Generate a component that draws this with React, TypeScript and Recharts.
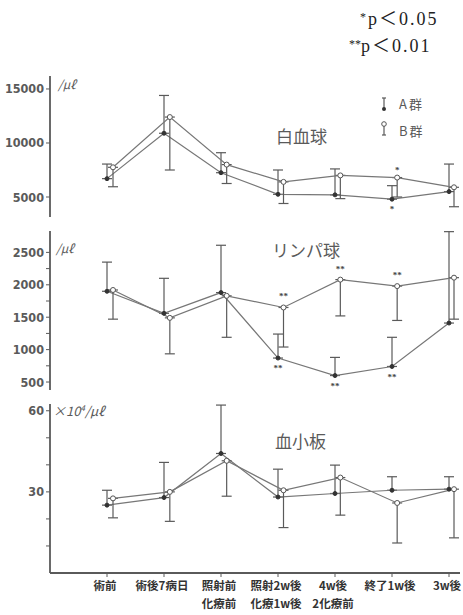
import React from 'react';
import { LineChart, Line, XAxis, YAxis, ErrorBar, LabelList } from 'recharts';

// 7 time points
const categories = ['術前', '術後7病日', '照射前\n化療前', '照射2w後\n化療1w後', '4w後\n2化療前', '終了1w後', '3w後'];

// 白血球 (/μl)
const wbcA = [6700, 10900, 7250, 5250, 5200, 4800, 5500];
const wbcAUpper = [8050, 14400, 9100, 7500, 7600, 6050, 8050];
const wbcB = [7750, 12400, 8000, 6400, 7000, 6800, 5900];
const wbcBLower = [5950, 7500, 6250, 4400, 4850, 5000, 4100];
const wbcASig = ['', '', '', '', '', '*', ''];
const wbcBSig = ['', '', '', '', '', '*', ''];
const wbcTicks = [5000, 10000, 15000];

// リンパ球 (/μl)
const lymA = [1900, 1560, 1880, 870, 600, 740, 1410];
const lymAUpper = [2350, 2100, 2610, 1240, 880, 1190, 2820];
const lymB = [1920, 1490, 1830, 1650, 2080, 1980, 2110];
const lymBLower = [1470, 935, 1190, 1040, 1520, 1450, 1470];
const lymASig = ['', '', '', '**', '**', '**', ''];
const lymBSig = ['', '', '', '**', '**', '**', ''];
const lymTicks = [500, 750, 1000, 1250, 1500, 1750, 2000, 2250, 2500];
const lymLabeled = [500, 1000, 1500, 2000, 2500];

// 血小板 (×10^4/μl)
const pltA = [25.1, 27.9, 44.2, 28.1, 29.4, 30.6, 31];
const pltAUpper = [30.6, 40.9, 62.1, 38.4, 39.9, 35.6, 35.6];
const pltB = [27.6, 30, 41.5, 30.6, 35.3, 25.9, 31];
const pltBLower = [20.4, 19.1, 28.4, 16.8, 21.4, 11.1, 13];
const pltTicks = [10, 20, 30, 40, 50, 60];
const pltLabeled = [30, 60];

const buildRows = (a, aUp, b, bLow, aSig, bSig) =>
  categories.map((name, i) => ({
    name,
    a: a[i],
    b: b[i],
    aErr: [0, aUp[i] - a[i]],
    bErr: [b[i] - bLow[i], 0],
    aSig: aSig[i],
    bSig: bSig[i],
  }));

const wbcRows = buildRows(wbcA, wbcAUpper, wbcB, wbcBLower, wbcASig, wbcBSig);
const lymRows = buildRows(lymA, lymAUpper, lymB, lymBLower, lymASig, lymBSig);
const pltRows = buildRows(pltA, pltAUpper, pltB, pltBLower, categories.map(() => ''), categories.map(() => ''));

const grey = '#5a5a5a';
const lineGrey = '#777';
const tickFont = '"DejaVu Sans Condensed", "DejaVu Sans", sans-serif';
const jpFont = '"Noto Sans CJK JP", sans-serif';
const serifFont = '"Liberation Serif", "Noto Sans CJK JP", serif';

const makeYTick = (labeled) => (props) => {
  const { x, y, payload } = props;
  if (!labeled.includes(payload.value)) return <g />;
  return (
    <text x={x} y={y} dy={4.5} textAnchor="end" fontSize={12.5} fontWeight="bold" fill={grey} fontFamily={tickFont}>
      {payload.value}
    </text>
  );
};

const XTick = (props) => {
  const { x, y, payload } = props;
  const lines = String(payload.value).split('\n');
  return (
    <text x={x - 2} y={y} textAnchor="middle" fontSize={11.5} fontWeight="bold" fill="#333" fontFamily={jpFont}>
      {lines.map((l, i) => (
        <tspan key={i} x={x - 2} dy={i === 0 ? 10.5 : 18}>{l}</tspan>
      ))}
    </text>
  );
};

const Panel = ({ rows, top, height, domain, ticks, labeled, showX, xHeight, sigOffsetTop, sigOffsetBottom }) => (
  <div style={{ position: 'absolute', left: 0, top }}>
    <LineChart width={463} height={height + (showX ? xHeight : 0)} data={rows} margin={{ top: 0, right: 3, bottom: 0, left: 0 }}>
      <XAxis
        xAxisId="a"
        dataKey="name"
        hide={!showX}
        height={xHeight}
        padding={{ left: 57, right: 11 }}
        axisLine={{ stroke: grey, strokeWidth: 1.8 }}
        tickLine={{ stroke: grey }}
        tickSize={4}
        interval={0}
        tick={<XTick />}
      />
      <XAxis xAxisId="b" dataKey="name" hide padding={{ left: 63, right: 6 }} />
      <YAxis
        width={50}
        domain={domain}
        allowDataOverflow
        ticks={ticks}
        interval={0}
        tickSize={4}
        axisLine={{ stroke: grey, strokeWidth: 1.8 }}
        tickLine={{ stroke: grey }}
        tick={makeYTick(labeled)}
      />
      <Line
        xAxisId="a"
        dataKey="a"
        stroke={lineGrey}
        strokeWidth={1.2}
        dot={{ r: 2, fill: '#333', stroke: '#333', strokeWidth: 1 }}
        isAnimationActive={false}
      >
        <ErrorBar dataKey="aErr" direction="y" width={5} stroke={grey} strokeWidth={1.2} />
        <LabelList dataKey="aSig" position="bottom" offset={sigOffsetBottom} fontSize={9} fontWeight="bold" fill="#444" />
      </Line>
      <Line
        xAxisId="b"
        dataKey="b"
        stroke={lineGrey}
        strokeWidth={1.2}
        dot={{ r: 2.5, fill: '#fff', stroke: '#555', strokeWidth: 1 }}
        isAnimationActive={false}
      >
        <ErrorBar dataKey="bErr" direction="y" width={5} stroke={grey} strokeWidth={1.2} />
        <LabelList dataKey="bSig" position="top" offset={sigOffsetTop} fontSize={9} fontWeight="bold" fill="#444" />
      </Line>
    </LineChart>
  </div>
);

const textStyle = (left, top, size, extra = {}) => ({
  position: 'absolute',
  left,
  top,
  fontSize: size,
  color: grey,
  fontFamily: jpFont,
  lineHeight: 1,
  whiteSpace: 'nowrap',
  ...extra,
});

export default function App() {
  return (
    <div style={{ position: 'absolute', left: 0, top: 0, width: 463, height: 615, background: '#fff', overflow: 'hidden' }}>
      <div style={textStyle(360, 10, 18, { color: '#222', fontFamily: serifFont, letterSpacing: 2 })}>
        <span style={{ fontSize: 12, verticalAlign: 4 }}>*</span>p＜0.05
      </div>
      <div style={textStyle(349, 37, 18, { color: '#222', fontFamily: serifFont, letterSpacing: 2 })}>
        <span style={{ fontSize: 12, verticalAlign: 4, letterSpacing: 0 }}>**</span>p＜0.01
      </div>

      <Panel rows={wbcRows} top={76} height={141} domain={[3150, 16200]} ticks={wbcTicks} labeled={wbcTicks} showX={false} xHeight={0} sigOffsetTop={5} sigOffsetBottom={6} />
      <Panel rows={lymRows} top={231} height={159} domain={[377, 2830]} ticks={lymTicks} labeled={lymLabeled} showX={false} xHeight={0} sigOffsetTop={8} sigOffsetBottom={7} />
      <Panel rows={pltRows} top={404} height={169} domain={[0, 62.5]} ticks={pltTicks} labeled={pltLabeled} showX xHeight={42} sigOffsetTop={5} sigOffsetBottom={5} />

      {/* unit labels */}
      <div style={textStyle(58, 78, 12, { fontStyle: 'italic' })}>/μℓ</div>
      <div style={textStyle(56, 242, 12, { fontStyle: 'italic' })}>/μℓ</div>
      <div style={textStyle(53, 404, 13, { fontStyle: 'italic' })}>×10<sup style={{ fontSize: 8 }}>4</sup>/μℓ</div>

      {/* panel titles */}
      <div style={textStyle(276, 127, 17)}>白血球</div>
      <div style={textStyle(272, 241, 17)}>リンパ球</div>
      <div style={textStyle(275, 432, 17)}>血小板</div>

      {/* legend */}
      <svg style={{ position: 'absolute', left: 375, top: 92 }} width={20} height={48}>
        <line x1={9} y1={6} x2={9} y2={17} stroke={grey} strokeWidth={1.2} />
        <line x1={7} y1={6} x2={11} y2={6} stroke={grey} strokeWidth={1.2} />
        <circle cx={9} cy={17} r={2} fill="#333" />
        <circle cx={9} cy={32} r={2.3} fill="#fff" stroke="#555" strokeWidth={1} />
        <line x1={9} y1={34} x2={9} y2={43} stroke={grey} strokeWidth={1.2} />
        <line x1={7} y1={43} x2={11} y2={43} stroke={grey} strokeWidth={1.2} />
      </svg>
      <div style={textStyle(399, 97, 13, { letterSpacing: 2 })}>A群</div>
      <div style={textStyle(399, 124, 13, { letterSpacing: 2 })}>B群</div>
    </div>
  );
}
